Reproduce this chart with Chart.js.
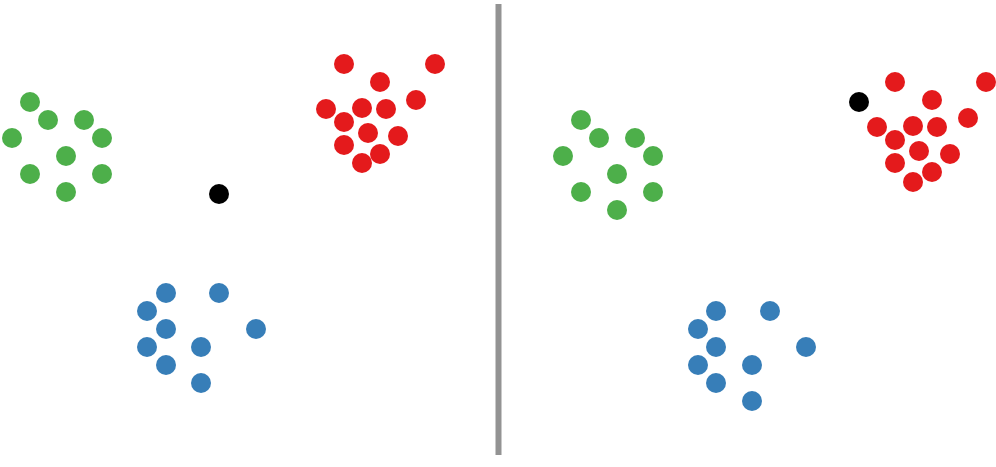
<!DOCTYPE html>
<html>
<head>
<meta charset="utf-8">
<script src="https://cdn.jsdelivr.net/npm/chart.js@4"></script>
<style>
  body { margin: 0; background: #fff; }
  #wrap { width: 996px; height: 467px; position: relative; }
</style>
</head>
<body>
<div id="wrap"><canvas id="chart"></canvas></div>
<script>
// Pontos (x, y em unidades da área, y cresce para baixo)
var verdeX = [30, 48, 84, 12, 102, 66, 30, 102, 66, 581, 599, 635, 563, 653, 617, 581, 653, 617];
var verdeY = [102, 120, 120, 138, 138, 156, 174, 174, 192, 120, 138, 138, 156, 156, 174, 192, 192, 210];

var vermelhoX = [344, 435, 380, 416, 326, 362, 386, 344, 368, 398, 344, 380, 362,
  895, 986, 932, 968, 877, 913, 937, 895, 919, 950, 895, 932, 913];
var vermelhoY = [64, 64, 82, 100, 109, 108, 109, 122, 133, 136, 145, 154, 163,
  82, 82, 100, 118, 127, 126, 127, 140, 151, 154, 163, 172, 182];

var azulX = [166, 219, 147, 166, 256, 147, 201, 166, 201, 716, 770, 698, 716, 806, 698, 752, 716, 752];
var azulY = [293, 293, 311, 329, 329, 347, 347, 365, 383, 311, 311, 329, 347, 347, 365, 365, 383, 401];

var pretoX = [219, 859];
var pretoY = [194, 102];

// Linha divisoria
var divisoriaX = [498.5, 498.5];
var divisoriaY = [4, 455];

function pontos(xs, ys) {
  return xs.map(function (x, i) { return { x: x, y: ys[i] }; });
}

function serie(xs, ys, cor) {
  return {
    data: pontos(xs, ys),
    backgroundColor: cor,
    borderColor: cor,
    borderWidth: 0,
    pointRadius: 10,
    pointHoverRadius: 10,
    showLine: false,
  };
}

new Chart(document.getElementById("chart"), {
  type: "scatter",
  data: {
    datasets: [
      {
        data: pontos(divisoriaX, divisoriaY),
        showLine: true,
        borderColor: "#939393",
        borderWidth: 6,
        pointRadius: 0,
        borderCapStyle: "butt",
      },
      serie(verdeX, verdeY, "#4daf4a"),
      serie(vermelhoX, vermelhoY, "#e41a1c"),
      serie(azulX, azulY, "#377eb8"),
      serie(pretoX, pretoY, "#000000"),
    ],
  },
  options: {
    responsive: true,
    maintainAspectRatio: false,
    animation: false,
    layout: { padding: 0, autoPadding: false },
    plugins: {
      legend: { display: false },
      tooltip: { enabled: false },
    },
    scales: {
      x: { type: "linear", min: 0, max: 996, display: false },
      y: { type: "linear", min: 0, max: 467, reverse: true, display: false },
    },
    clip: false,
  },
});
</script>
</body>
</html>
